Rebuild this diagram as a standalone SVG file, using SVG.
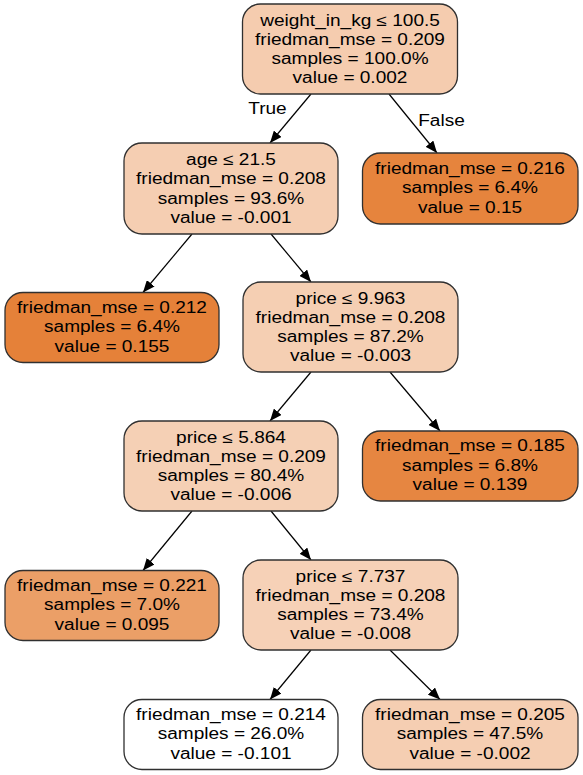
<svg xmlns="http://www.w3.org/2000/svg" width="583" height="775" viewBox="0 0 583 775">
<defs>
<marker id="arr" markerWidth="12" markerHeight="10" refX="12" refY="5" orient="auto" markerUnits="userSpaceOnUse">
<path d="M0,0 L12,5 L0,10 z" fill="#000000"/>
</marker>
<style>
.box{stroke:#303030;stroke-width:1.3}
.t{font-family:"Liberation Sans",Arial,sans-serif;font-size:16px;fill:#000000;text-anchor:middle}
.e{stroke:#000000;stroke-width:1.2;fill:none;marker-end:url(#arr)}
</style>
</defs>
<rect width="583" height="775" fill="#ffffff"/>
<g id="edges">
<line class="e" x1="311" y1="94" x2="270" y2="143"/>
<line class="e" x1="389" y1="94" x2="437" y2="153"/>
<line class="e" x1="192" y1="234" x2="143" y2="292.5"/>
<line class="e" x1="271" y1="234" x2="311" y2="282"/>
<line class="e" x1="311" y1="372" x2="270" y2="421"/>
<line class="e" x1="390" y1="372" x2="440" y2="431"/>
<line class="e" x1="192" y1="511" x2="143" y2="570.5"/>
<line class="e" x1="271" y1="511" x2="311" y2="560"/>
<line class="e" x1="311" y1="650" x2="270" y2="699.5"/>
<line class="e" x1="390" y1="650" x2="440" y2="699.5"/>
<text class="t" transform="translate(267.5,0) scale(1.19,1)" y="114">True</text>
<text class="t" transform="translate(441.5,0) scale(1.19,1)" y="126">False</text>
</g>
<g id="n0">
<rect class="box" x="242.5" y="4" width="215" height="90" rx="18" fill="#f5ccaf"/>
<text class="t" transform="translate(350,0) scale(1.19,1)"><tspan x="0" y="25.6">weight_in_kg ≤ 100.5</tspan><tspan x="0" y="44.9">friedman_mse = 0.209</tspan><tspan x="0" y="64.2">samples = 100.0%</tspan><tspan x="0" y="83.5">value = 0.002</tspan></text>
</g>
<g id="n1">
<rect class="box" x="124" y="143" width="214" height="91" rx="18" fill="#f5ceb2"/>
<text class="t" transform="translate(231,0) scale(1.19,1)"><tspan x="0" y="165.1">age ≤ 21.5</tspan><tspan x="0" y="184.4">friedman_mse = 0.208</tspan><tspan x="0" y="203.7">samples = 93.6%</tspan><tspan x="0" y="223">value = -0.001</tspan></text>
</g>
<g id="n2">
<rect class="box" x="362.5" y="153" width="215.5" height="71" rx="18" fill="#e6843d"/>
<text class="t" transform="translate(470,0) scale(1.19,1)"><tspan x="0" y="174">friedman_mse = 0.216</tspan><tspan x="0" y="193.3">samples = 6.4%</tspan><tspan x="0" y="212.6">value = 0.15</tspan></text>
</g>
<g id="n3">
<rect class="box" x="5" y="292.5" width="214" height="70" rx="18" fill="#e58139"/>
<text class="t" transform="translate(112,0) scale(1.19,1)"><tspan x="0" y="313">friedman_mse = 0.212</tspan><tspan x="0" y="332.3">samples = 6.4%</tspan><tspan x="0" y="351.6">value = 0.155</tspan></text>
</g>
<g id="n4">
<rect class="box" x="243" y="282" width="215" height="90" rx="18" fill="#f5cfb3"/>
<text class="t" transform="translate(350.5,0) scale(1.19,1)"><tspan x="0" y="303.6">price ≤ 9.963</tspan><tspan x="0" y="322.9">friedman_mse = 0.208</tspan><tspan x="0" y="342.2">samples = 87.2%</tspan><tspan x="0" y="361.5">value = -0.003</tspan></text>
</g>
<g id="n5">
<rect class="box" x="124" y="421" width="214" height="90" rx="18" fill="#f5d0b5"/>
<text class="t" transform="translate(231,0) scale(1.19,1)"><tspan x="0" y="442.6">price ≤ 5.864</tspan><tspan x="0" y="461.9">friedman_mse = 0.209</tspan><tspan x="0" y="481.2">samples = 80.4%</tspan><tspan x="0" y="500.5">value = -0.006</tspan></text>
</g>
<g id="n6">
<rect class="box" x="362.5" y="431" width="215.5" height="70" rx="18" fill="#e68641"/>
<text class="t" transform="translate(470,0) scale(1.19,1)"><tspan x="0" y="451.5">friedman_mse = 0.185</tspan><tspan x="0" y="470.8">samples = 6.8%</tspan><tspan x="0" y="490.1">value = 0.139</tspan></text>
</g>
<g id="n7">
<rect class="box" x="5" y="570.5" width="214" height="70" rx="18" fill="#eb9f67"/>
<text class="t" transform="translate(112,0) scale(1.19,1)"><tspan x="0" y="591">friedman_mse = 0.221</tspan><tspan x="0" y="610.3">samples = 7.0%</tspan><tspan x="0" y="629.6">value = 0.095</tspan></text>
</g>
<g id="n8">
<rect class="box" x="243" y="560" width="215" height="90" rx="18" fill="#f6d1b7"/>
<text class="t" transform="translate(350.5,0) scale(1.19,1)"><tspan x="0" y="581.6">price ≤ 7.737</tspan><tspan x="0" y="600.9">friedman_mse = 0.208</tspan><tspan x="0" y="620.2">samples = 73.4%</tspan><tspan x="0" y="639.5">value = -0.008</tspan></text>
</g>
<g id="n9">
<rect class="box" x="124" y="699.5" width="214" height="70" rx="18" fill="#ffffff"/>
<text class="t" transform="translate(231,0) scale(1.19,1)"><tspan x="0" y="720">friedman_mse = 0.214</tspan><tspan x="0" y="739.3">samples = 26.0%</tspan><tspan x="0" y="758.6">value = -0.101</tspan></text>
</g>
<g id="n10">
<rect class="box" x="362.5" y="699.5" width="215.5" height="70" rx="18" fill="#f5ceb2"/>
<text class="t" transform="translate(470,0) scale(1.19,1)"><tspan x="0" y="720">friedman_mse = 0.205</tspan><tspan x="0" y="739.3">samples = 47.5%</tspan><tspan x="0" y="758.6">value = -0.002</tspan></text>
</g>
</svg>
